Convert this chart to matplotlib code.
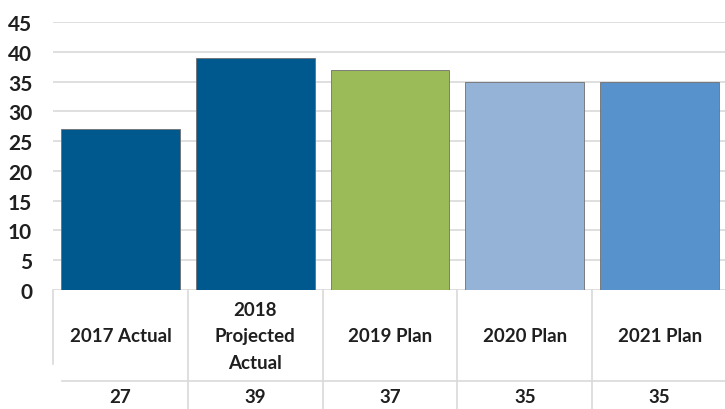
import matplotlib.pyplot as plt
from matplotlib.lines import Line2D
import matplotlib.transforms as mtransforms

# data
categories = ['2017 Actual', '2018\nProjected\nActual', '2019 Plan', '2020 Plan', '2021 Plan']
values = [27, 39, 37, 35, 35]
bar_colors = ['#00598E', '#00598E', '#9BBB59', '#95B3D7', '#5792CD']
yticks = [0, 5, 10, 15, 20, 25, 30, 35, 40, 45]

W, H = 725, 410
plt.rcParams['font.family'] = ['Lato', 'DejaVu Sans']

fig = plt.figure(figsize=(W / 100, H / 100), dpi=100)
left, right, top, bottom = 53, 727, 23, 291
ax = fig.add_axes([left / W, 1 - bottom / H, (right - left) / W, (bottom - top) / H])

x = list(range(len(categories)))
ax.bar(x, values, width=0.88, color=bar_colors, edgecolor='#6f6f6f', linewidth=0.6, zorder=3)

ax.set_xlim(-0.5, len(categories) - 0.5)
ax.set_ylim(0, 45)
ax.set_yticks(yticks)
ax.set_yticklabels([str(t) for t in yticks], fontsize=15, fontweight='bold', color='#1f1f1f')
ax.tick_params(axis='y', length=0, pad=15)
ax.set_xticks([])
ax.grid(axis='y', color='#d9d9d9', linewidth=1.2, zorder=0)
for s in ax.spines.values():
    s.set_visible(False)

# data table under the chart
trans = mtransforms.blended_transform_factory(ax.transData, fig.transFigure)
def fy(py):
    return 1 - py / H

grid_c = '#d9d9d9'
for i in range(1, len(categories)):
    fig.add_artist(Line2D([i - 0.5, i - 0.5], [fy(291), fy(412)], transform=trans,
                          color=grid_c, linewidth=1.2))
fig.add_artist(Line2D([-0.5, -0.5], [fy(291), fy(365)], transform=trans, color=grid_c, linewidth=1.2))
fig.add_artist(Line2D([-0.43, len(categories) - 0.5], [fy(382), fy(382)], transform=trans,
                      color=grid_c, linewidth=1.2))

for i, (c, v) in enumerate(zip(categories, values)):
    fig.text(i, fy(337), c, transform=trans, ha='center', va='center', fontsize=13.5,
             fontweight='bold', color='#1f1f1f', linespacing=1.65)
    fig.text(i, fy(398), str(v), transform=trans, ha='center', va='center', fontsize=13.5,
             fontweight='bold', color='#1f1f1f')

fig.savefig('out.png', dpi=100)
